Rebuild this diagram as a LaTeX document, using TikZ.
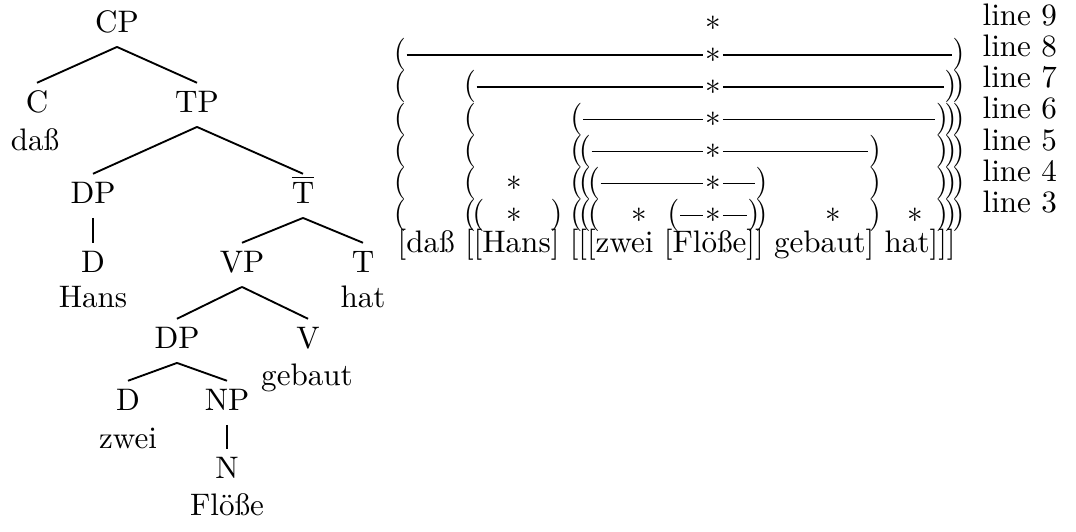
\documentclass[tikz,border=0pt]{standalone}
\usepackage{tikz}
\usepackage{graphicx}

\begin{document}
\begin{tikzpicture}[x=0.3215pt, y=-0.3215pt,
    cat/.style={inner sep=1.6pt, text height=7.6pt, text depth=3pt, anchor=base},
    par/.style={inner sep=0pt, anchor=base},
    star/.style={inner sep=0.5pt}]
  \useasboundingbox (0,0) rectangle (1076,531);

  % tree
  \node[cat] (cp) at (117,32) {CP};
  \node[cat] (c) at (37,112) {C};
  \node[cat] (tp) at (197,112) {TP};
  \node[cat] (dass) at (35,150) {daß};
  \node[cat] (dpa) at (93,203) {DP};
  \node[cat] (tbar) at (303,203) {$\overline{\mathrm{T}}$};
  \node[cat] (da) at (93,272) {D};
  \node[cat] (hans) at (93,307) {Hans};
  \node[cat] (vp) at (242,272) {VP};
  \node[cat] (t) at (363,272) {T};
  \node[cat] (hat) at (363,307) {hat};
  \node[cat] (dpb) at (177,348) {DP};
  \node[cat] (v) at (308,348) {V};
  \node[cat] (gebaut) at (307,385) {gebaut};
  \node[cat] (db) at (128,410) {D};
  \node[cat] (np) at (227,410) {NP};
  \node[cat] (zwei) at (128,448) {zwei};
  \node[cat] (n) at (227,478) {N};
  \node[cat] (floesse) at (227,515) {Flöße};
  \begin{scope}[line width=0.6pt]
    \draw (cp.south) -- (c.north);
    \draw (cp.south) -- (tp.north);
    \draw (tp.south) -- (dpa.north);
    \draw (tp.south) -- (tbar.north);
    \draw (dpa.south) -- (da.north);
    \draw (tbar.south) -- (vp.north);
    \draw (tbar.south) -- (t.north);
    \draw (vp.south) -- (dpb.north);
    \draw (vp.south) -- (v.north);
    \draw (dpb.south) -- (db.north);
    \draw (dpb.south) -- (np.north);
    \draw (np.south) -- (n.north);
  \end{scope}

  % grid: opening brackets
  \foreach \k/\y in {8/62.8, 7/94.9, 6/127.0, 5/159.1, 4/191.2, 3/223.3}
    \node[par] (a\k) at (400,\y) {\scalebox{1}[1.04]{(}};
  \foreach \k/\y in {7/94.9, 6/127.0, 5/159.1, 4/191.2, 3/223.3}
    \node[par] (b\k) at (470,\y) {\scalebox{1}[1.04]{(}};
  \foreach \k/\y in {6/127.0, 5/159.1, 4/191.2, 3/223.3}
    \node[par] (c\k) at (576.5,\y) {\scalebox{1}[1.04]{(}};
  \foreach \k/\y in {5/159.1, 4/191.2, 3/223.3}
    \node[par] (d\k) at (585,\y) {\scalebox{1}[1.04]{(}};
  \foreach \k/\y in {4/191.2, 3/223.3}
    \node[par] (e\k) at (594,\y) {\scalebox{1}[1.04]{(}};
  \node[par] (h3) at (478.5,223.3) {\scalebox{1}[1.04]{(}};
  \node[par] (f3) at (673.5,223.3) {\scalebox{1}[1.04]{(}};

  % grid: closing brackets
  \foreach \k/\y in {8/62.8, 7/94.9, 6/127.0, 5/159.1, 4/191.2, 3/223.3}
    \node[par] (A\k) at (958.5,\y) {\scalebox{1}[1.04]{)}};
  \foreach \k/\y in {7/94.9, 6/127.0, 5/159.1, 4/191.2, 3/223.3}
    \node[par] (B\k) at (950.5,\y) {\scalebox{1}[1.04]{)}};
  \foreach \k/\y in {6/127.0, 5/159.1, 4/191.2, 3/223.3}
    \node[par] (C\k) at (942,\y) {\scalebox{1}[1.04]{)}};
  \foreach \k/\y in {5/159.1, 4/191.2, 3/223.3}
    \node[par] (D\k) at (875,\y) {\scalebox{1}[1.04]{)}};
  \foreach \k/\y in {4/191.2, 3/223.3}
    \node[par] (E\k) at (761.5,\y) {\scalebox{1}[1.04]{)}};
  \node[par] (H3) at (556.5,223.3) {\scalebox{1}[1.04]{)}};
  \node[par] (F3) at (753.5,223.3) {\scalebox{1}[1.04]{)}};

  % grid: marks
  \foreach \k/\y in {9/22.9, 8/55.0, 7/87.1, 6/119.2, 5/151.3, 4/183.4, 3/215.5}
    \node[star] (s\k) at (713,\y) {$\ast$};
  \node[star] (hs4) at (514,183.4) {$\ast$};
  \node[star] (hs3) at (514,215.5) {$\ast$};
  \node[star] (zs3) at (639,215.5) {$\ast$};
  \node[star] (gs3) at (833,215.5) {$\ast$};
  \node[star] (ts3) at (915,215.5) {$\ast$};
  \foreach \o/\k/\c in {a/8/A, b/7/B, c/6/C, d/5/D, e/4/E, f/3/F}
    \draw (\o\k.east |- s\k.west) -- (s\k.west) (s\k.east) -- (\c\k.west |- s\k.east);

  \node[anchor=base west, inner sep=0pt] (words) at (397,252)
    {[daß [[Hans] [[[zwei [Flöße]] gebaut] hat]]]};

  % line labels
  \foreach \k/\y in {9/25, 8/56.3, 7/87.6, 6/118.9, 5/150.2, 4/181.5, 3/212.8}
    \node[anchor=base west, inner sep=0pt] (line\k) at (982,\y) {line \k};
\end{tikzpicture}
\end{document}
